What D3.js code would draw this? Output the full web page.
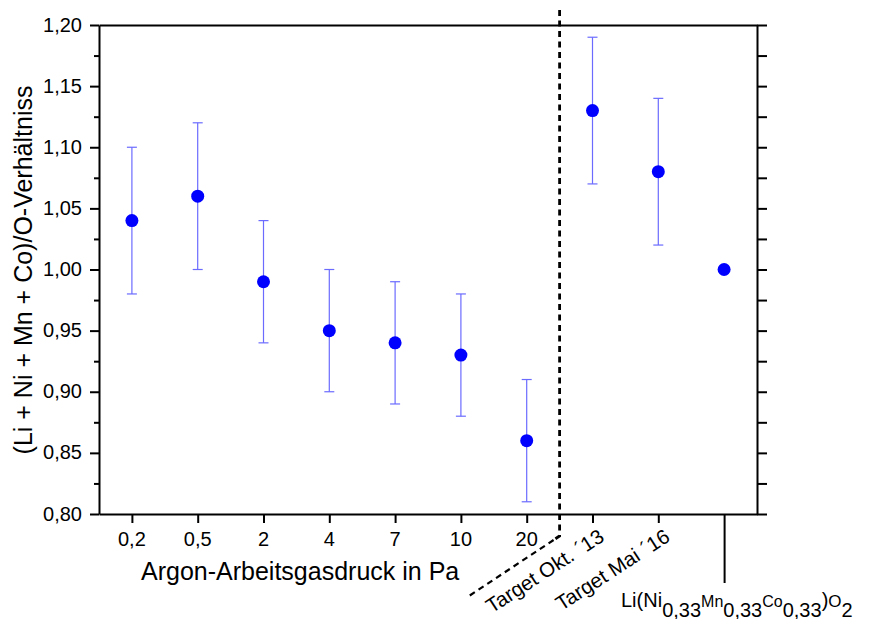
<!DOCTYPE html>
<html>
<head>
<meta charset="utf-8">
<script src="https://cdn.jsdelivr.net/npm/d3@7"></script>
<style>
  html, body { margin: 0; padding: 0; background: #fff; }
  svg { display: block; font-family: "Liberation Sans", Arial, sans-serif; }
</style>
</head>
<body>
<svg id="chart" width="874" height="619"></svg>
<script>
// Sample groups: sputter pressures (Pa), two targets and the reference compound
const categories = ["0,2", "0,5", "2", "4", "7", "10", "20", "Target Okt. ´13", "Target Mai ´16", "Li(Ni0,33Mn0,33Co0,33)O2"];
const pressureLabels = ["0,2", "0,5", "2", "4", "7", "10", "20"];
const targetLabels = ["Target Okt. ´13", "Target Mai ´16"];
// (Li + Ni + Mn + Co)/O ratio and its uncertainty
const ratio    = [1.04, 1.06, 0.99, 0.95, 0.94, 0.93, 0.86, 1.13, 1.08, 1.00];
const ratioErr = [0.06, 0.06, 0.05, 0.05, 0.05, 0.05, 0.05, 0.06, 0.06, null];
const yMajorTicks = [0.80, 0.85, 0.90, 0.95, 1.00, 1.05, 1.10, 1.15, 1.20];
const yMinorTicks = [0.825, 0.875, 0.925, 0.975, 1.025, 1.075, 1.125, 1.175];

const svg = d3.select("#chart");
const plotL = 99, plotR = 757, plotT = 25, plotB = 514;

const x = d3.scalePoint().domain(categories).range([plotL, plotR]).padding(0.5);
const y = d3.scaleLinear().domain([0.80, 1.20]).range([plotB, plotT]);
const fmt = d => d.toFixed(2).replace(".", ",");

function styleAxis(g) {
  g.selectAll("path.domain").attr("stroke", "#000").attr("stroke-width", 2);
  g.selectAll(".tick line").attr("stroke", "#000").attr("stroke-width", 2);
}

// left axis: major ticks with labels, minor ticks shorter
const gLeft = svg.append("g").attr("transform", `translate(${plotL},0)`)
  .call(d3.axisLeft(y).tickValues(yMajorTicks).tickSize(9).tickSizeOuter(0).tickPadding(8).tickFormat(fmt));
gLeft.attr("font-family", null).attr("font-size", null);
gLeft.selectAll(".tick text").attr("font-size", 20).attr("fill", "#000").attr("dy", "0.3em");
styleAxis(gLeft);
const gLeftMinor = svg.append("g").attr("transform", `translate(${plotL},0)`)
  .call(d3.axisLeft(y).tickValues(yMinorTicks).tickSize(5).tickSizeOuter(0).tickFormat(""));
gLeftMinor.select("path.domain").remove();
styleAxis(gLeftMinor);

// right axis: ticks only
const gRight = svg.append("g").attr("transform", `translate(${plotR},0)`)
  .call(d3.axisRight(y).tickValues(yMajorTicks.concat(yMinorTicks)).tickSize(10).tickSizeOuter(0).tickFormat(""));
styleAxis(gRight);

// top frame line
const gTop = svg.append("g").attr("transform", `translate(0,${plotT})`)
  .call(d3.axisTop(x).tickValues([]).tickSizeOuter(0));
styleAxis(gTop);

// bottom axis
const gBottom = svg.append("g").attr("transform", `translate(0,${plotB})`)
  .call(d3.axisBottom(x).tickSize(9).tickSizeOuter(0).tickFormat(""));
styleAxis(gBottom);
gBottom.selectAll(".tick line").filter(d => d === categories[9]).attr("y2", 69);

// pressure tick labels
svg.append("g").selectAll("text").data(pressureLabels).join("text")
  .attr("x", d => x(d)).attr("y", 546)
  .attr("text-anchor", "middle").attr("font-size", 20).attr("fill", "#000")
  .text(d => d);

// rotated target labels
svg.append("g").selectAll("text").data(targetLabels).join("text")
  .attr("transform", d => `translate(${x(d) + 13},${540}) rotate(-33)`)
  .attr("text-anchor", "end").attr("font-size", 20.5).attr("fill", "#000")
  .text(d => d);

// reference compound label with subscripts
const comp = svg.append("text").attr("x", 621).attr("y", 607).attr("fill", "#000");
const parts = [
  ["Li(Ni", 20, 0], ["0,33", 20, 9.5], ["Mn", 16, -9.5], ["0,33", 20, 9.5],
  ["Co", 16, -9.5], ["0,33", 20, 9.5], [")", 20, -9.5], ["O", 17, 0], ["2", 20, 9.5]
];
parts.forEach(([t, fs, dy]) => comp.append("tspan").attr("font-size", fs).attr("dy", dy).text(t));

// axis titles
svg.append("text").attr("x", 141).attr("y", 580).attr("font-size", 25).attr("fill", "#000")
  .text("Argon-Arbeitsgasdruck in Pa");
svg.append("text").attr("transform", "translate(32,270) rotate(-90)")
  .attr("text-anchor", "middle").attr("font-size", 25).attr("fill", "#000")
  .text("(Li + Ni + Mn + Co)/O-Verhältniss");

// dashed separator between pressure series and targets
const xd = (x(categories[6]) + x(categories[7])) / 2;
svg.append("path")
  .attr("d", `M${xd},10V536L${xd - 6},540`)
  .attr("fill", "none").attr("stroke", "#000").attr("stroke-width", 2.8).attr("stroke-dasharray", "6,4.5");
const ang = 33.5 * Math.PI / 180, len = 104;
svg.append("path")
  .attr("d", `M${xd - 6},540L${xd - 6 - len * Math.cos(ang)},${540 + len * Math.sin(ang)}`)
  .attr("fill", "none").attr("stroke", "#000").attr("stroke-width", 2.2).attr("stroke-dasharray", "6,4.5");

// error bars
const data = categories.map((c, i) => ({ c, v: ratio[i], e: ratioErr[i] }));
const eb = svg.append("g").attr("stroke", "#6b6bff").attr("stroke-width", 1.2).attr("fill", "none");
data.filter(d => d.e != null).forEach(d => {
  const cx = x(d.c), y1 = y(d.v + d.e), y2 = y(d.v - d.e);
  eb.append("line").attr("x1", cx).attr("x2", cx).attr("y1", y1).attr("y2", y2);
  eb.append("line").attr("x1", cx - 5).attr("x2", cx + 5).attr("y1", y1).attr("y2", y1);
  eb.append("line").attr("x1", cx - 5).attr("x2", cx + 5).attr("y1", y2).attr("y2", y2);
});

// points
svg.append("g").selectAll("circle").data(data).join("circle")
  .attr("cx", d => x(d.c)).attr("cy", d => y(d.v)).attr("r", 6.5).attr("fill", "#0000ff");
</script>
</body>
</html>
